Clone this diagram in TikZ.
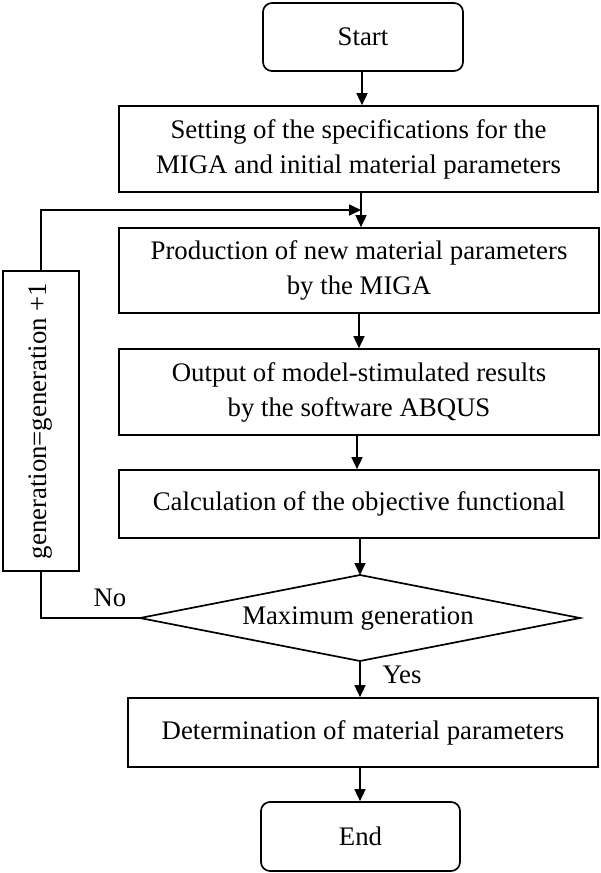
\documentclass[tikz,border=0pt]{standalone}
\usepackage{fontspec}
\setmainfont{Liberation Serif}
\usetikzlibrary{arrows.meta,shapes.geometric}
\begin{document}
\begin{tikzpicture}[x=1pt,y=-1pt,
  every node/.style={font=\fontsize{26.8}{35}\selectfont, inner sep=0pt},
  procbox/.style={draw, line width=1.7pt, align=center},
  termbox/.style={draw, line width=1.7pt, rounded corners=9pt},
  arr/.style={line width=1.7pt, -{Triangle[length=12pt,width=11pt]}},
  ln/.style={line width=1.7pt}]
\useasboundingbox (0,0) rectangle (600,873);
\node[termbox, minimum width=200pt, minimum height=68pt] (start) at (363,37) {Start};
\node[procbox, minimum width=479pt, minimum height=86pt] (set) at (358.5,149) {Setting of the specifications for the\\MIGA and initial material parameters};
\node[procbox, minimum width=480pt, minimum height=85pt] (prod) at (359,270.5) {Production of new material parameters\\by the MIGA};
\node[procbox, minimum width=480pt, minimum height=86pt] (outp) at (359,392) {Output of model-stimulated results\\by the software ABQUS};
\node[procbox, minimum width=480pt, minimum height=68pt] (calc) at (359,504) {Calculation of the objective functional};
\draw[ln] (140,618) coordinate (dw) -- (360,575) coordinate (dn) -- (580,618) coordinate (de) -- (360,661) coordinate (ds) -- cycle;
\node (dec) at (358,619) {Maximum generation};
\node[procbox, minimum width=470pt, minimum height=69pt] (det) at (363,732.5) {Determination of material parameters};
\node[termbox, minimum width=199pt, minimum height=69pt] (end) at (360.5,836.5) {End};
\node[procbox, minimum width=76pt, minimum height=300pt] (gen) at (41,421) {};
\node[rotate=90] (gentxt) at (gen.center) {generation=generation +1};
\coordinate (join) at (361,210);
\draw[arr] (start.south -| 362,0) -- (set.north -| 362,0);
\draw[arr] (set.south -| 361,0) -- (prod.north -| 361,0);
\draw[arr] (gen.north) |- (join);
\draw[arr] (prod.south -| 359,0) -- (outp.north -| 359,0);
\draw[arr] (outp.south -| 357,0) -- (calc.north -| 357,0);
\draw[arr] (calc.south -| dn) -- (dn);
\draw[arr] (ds) -- (det.north -| ds);
\draw[arr] (det.south -| 360,0) -- (end.north -| 360,0);
\draw[ln] (dw) -| (gen.south);
\node (no) at (110,598) {No};
\node (yes) at (402,675) {Yes};
\end{tikzpicture}
\end{document}
